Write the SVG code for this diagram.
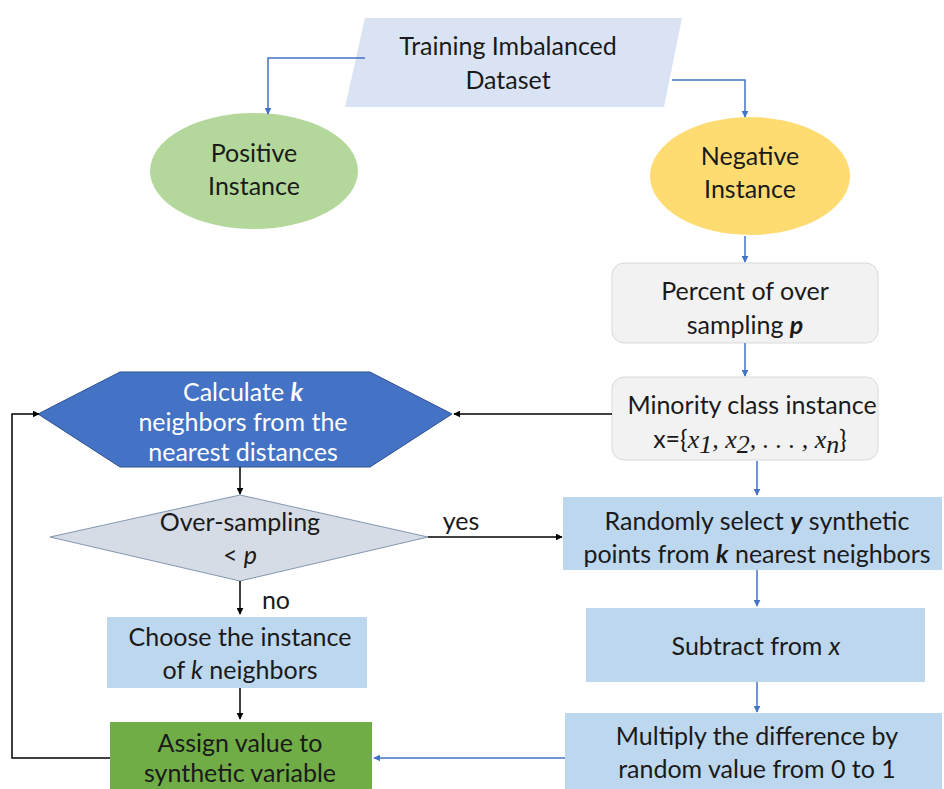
<svg xmlns="http://www.w3.org/2000/svg" width="944" height="789" viewBox="0 0 944 789">
<defs>
<marker id="ab" viewBox="0 0 10 10" refX="9" refY="5" markerWidth="7" markerHeight="7" orient="auto" markerUnits="userSpaceOnUse"><path d="M0,0 L10,5 L0,10 z" fill="#4472c4"/></marker>
<marker id="ak" viewBox="0 0 10 10" refX="9" refY="5" markerWidth="7" markerHeight="7" orient="auto" markerUnits="userSpaceOnUse"><path d="M0,0 L10,5 L0,10 z" fill="#000"/></marker>
</defs>
<style>
text{font-family:Lato,"Open Sans",sans-serif;font-size:25px;fill:#1a1a1a;text-anchor:middle}
.w{fill:#fff}
.m{font-family:"Liberation Serif","DejaVu Serif",serif;font-style:italic;font-size:26px}
.b{stroke:#4472c4;stroke-width:1.5;fill:none}
.k{stroke:#000;stroke-width:1.5;fill:none}
.bi{font-weight:bold;font-style:italic}
.i{font-style:italic}
</style>
<rect width="944" height="789" fill="#fff"/>
<g id="dataset">
<polygon points="365,18 682,18 664,107 345,107" fill="#dae3f3"/>
<text x="508" y="55">Training Imbalanced</text>
<text x="508" y="89">Dataset</text>
</g>
<g id="positive">
<ellipse cx="254" cy="171" rx="104" ry="58" fill="#b4d89b"/>
<text x="254" y="162">Positive</text>
<text x="254" y="195">Instance</text>
</g>
<g id="negative">
<ellipse cx="750" cy="176" rx="100" ry="59" fill="#ffdc72"/>
<text x="750" y="165">Negative</text>
<text x="750" y="198">Instance</text>
</g>
<g id="percent">
<rect x="612" y="263" width="266" height="80" rx="12" fill="#f2f2f2" stroke="#d9d9d9"/>
<text x="745" y="300">Percent of over</text>
<text x="745" y="334">sampling <tspan class="bi">p</tspan></text>
</g>
<g id="minority">
<rect x="612" y="377" width="266" height="83" rx="12" fill="#f2f2f2" stroke="#d9d9d9"/>
<text x="752" y="414">Minority class instance</text>
<text x="750" y="448">x={<tspan class="m">x</tspan><tspan class="m" font-size="17" dy="5" font-style="normal">1</tspan><tspan class="m" dy="-5">, x</tspan><tspan class="m" font-size="17" dy="5" font-style="normal">2</tspan><tspan class="m" dy="-5">, . . . , x</tspan><tspan class="m" font-size="17" dy="5">n</tspan><tspan dy="-5">}</tspan></text>
</g>
<g id="random">
<rect x="563" y="497" width="379" height="73" fill="#bdd7ee"/>
<text x="757" y="530">Randomly select <tspan class="bi">y</tspan> synthetic</text>
<text x="757" y="563">points from <tspan class="bi">k</tspan> nearest neighbors</text>
</g>
<g id="subtract">
<rect x="586" y="608" width="339" height="74" fill="#bdd7ee"/>
<text x="756" y="655">Subtract from <tspan class="i">x</tspan></text>
</g>
<g id="multiply">
<rect x="565" y="713" width="377" height="76" fill="#bdd7ee"/>
<text x="757" y="745">Multiply the difference by</text>
<text x="757" y="778">random value from 0 to 1</text>
</g>
<g id="calculate">
<polygon points="38,414 120,372 370,372 452,414 370,467 120,467" fill="#4472c4" stroke="#2f528f" stroke-width="1"/>
<text class="w" x="243" y="401">Calculate <tspan class="bi">k</tspan></text>
<text class="w" x="243" y="431">neighbors from the</text>
<text class="w" x="243" y="461">nearest distances</text>
</g>
<g id="oversampling">
<polygon points="50,537 240,495 428,537 240,581" fill="#d6dce5" stroke="#8497b0" stroke-width="1"/>
<text x="240" y="531">Over-sampling</text>
<text x="240" y="564">&lt; <tspan class="i">p</tspan></text>
</g>
<g id="choose">
<rect x="107" y="617" width="260" height="71" fill="#bdd7ee"/>
<text x="240" y="646">Choose the instance</text>
<text x="240" y="679">of <tspan class="i">k</tspan> neighbors</text>
</g>
<g id="assign">
<rect x="110" y="722" width="262" height="67" fill="#70ad47"/>
<text x="240" y="752">Assign value to</text>
<text x="240" y="782">synthetic variable</text>
</g>
<g id="connectors">
<path class="b" d="M365,58 H268 V114" marker-end="url(#ab)"/>
<path class="b" d="M672,80 H745 V117" marker-end="url(#ab)"/>
<path class="b" d="M745,236 V262" marker-end="url(#ab)"/>
<path class="b" d="M745,343 V376" marker-end="url(#ab)"/>
<path class="b" d="M757,461 V495" marker-end="url(#ab)"/>
<path class="b" d="M757,570 V606" marker-end="url(#ab)"/>
<path class="b" d="M757,682 V712" marker-end="url(#ab)"/>
<path class="b" d="M565,758 H374" marker-end="url(#ab)"/>
<path class="k" d="M612,414 H454" marker-end="url(#ak)"/>
<path class="k" d="M240,467 V494" marker-end="url(#ak)"/>
<path class="k" d="M428,537 H562" marker-end="url(#ak)"/>
<path class="k" d="M240,581 V614" marker-end="url(#ak)"/>
<path class="k" d="M240,688 V719" marker-end="url(#ak)"/>
<path class="k" d="M110,758 H12 V414 H39" marker-end="url(#ak)"/>
<text x="461" y="530">yes</text>
<text x="276" y="609">no</text>
</g>
</svg>
